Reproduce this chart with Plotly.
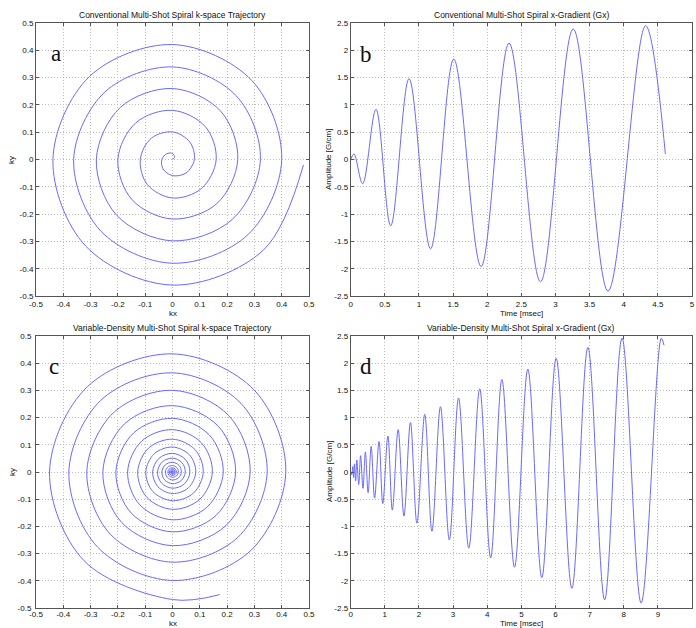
import plotly.graph_objects as go

W, H = 696, 628

# ---------------- data ----------------
# Panel a: conventional spiral, radius every 45 degrees starting at the centre (counter-clockwise)
a_r = [0.000, 0.011, 0.022, 0.030, 0.039, 0.049, 0.059, 0.070,
       0.080, 0.090, 0.101, 0.110, 0.118, 0.130, 0.141, 0.150,
       0.160, 0.170, 0.180, 0.190, 0.200, 0.209, 0.218, 0.229,
       0.239, 0.250, 0.260, 0.270, 0.279, 0.289, 0.298, 0.310,
       0.322, 0.330, 0.339, 0.350, 0.362, 0.371, 0.380, 0.390,
       0.400, 0.410, 0.421, 0.430, 0.438, 0.449, 0.460, 0.470]
a_end_theta = 2157.6
a_end_r = 0.480

# Panel b: conventional Gx, extrema (time msec, amplitude G/cm)
b_t = [0.0, 0.048, 0.175, 0.37, 0.586, 0.855, 1.17, 1.51, 1.91, 2.32, 2.78, 3.26, 3.77, 4.32, 4.61]
b_g = [0.0, 0.104, -0.445, 0.92, -1.214, 1.48, -1.636, 1.84, -1.96, 2.13, -2.24, 2.39, -2.41, 2.45, 0.10]

# Panel c: variable-density spiral, radius every 45 degrees starting at the centre
c_r = [0.0000, 0.0003, 0.0005, 0.0008, 0.0010,
       0.0012, 0.0014, 0.0016, 0.0018, 0.0019, 0.0021, 0.0023, 0.0025,
       0.0028, 0.0030, 0.0033, 0.0035, 0.0038, 0.0040, 0.0043, 0.0045,
       0.0049, 0.0053, 0.0056, 0.0060, 0.0064, 0.0068, 0.0071, 0.0075,
       0.0080, 0.0085, 0.0090, 0.0095, 0.0100, 0.0105, 0.0110, 0.0115,
       0.0122, 0.0129, 0.0136, 0.0143, 0.0149, 0.0156, 0.0163, 0.0170,
       0.0181, 0.0193, 0.0204, 0.0215, 0.0226, 0.0238, 0.0249, 0.0260,
       0.0276, 0.0293, 0.0309, 0.0325, 0.0341, 0.0358, 0.0374, 0.0390,
       0.0410, 0.0430, 0.0450, 0.0470, 0.0490, 0.0510, 0.0530, 0.0550,
       0.0573, 0.0595, 0.0618, 0.0640, 0.0663, 0.0685, 0.0708, 0.0730,
       0.0761, 0.0793, 0.0824, 0.0855, 0.0886, 0.0918, 0.0949, 0.0980,
       0.1018, 0.1055, 0.1093, 0.1130, 0.1168, 0.1205, 0.1243, 0.1280,
       0.1326, 0.1373, 0.1419, 0.1465, 0.1511, 0.1558, 0.1604, 0.1650,
       0.1704, 0.1758, 0.1811, 0.1865, 0.1919, 0.1973, 0.2026, 0.2080,
       0.2140, 0.2200, 0.2260, 0.2320, 0.2380, 0.2440, 0.2500, 0.2560,
       0.2634, 0.2708, 0.2781, 0.2855, 0.2929, 0.3003, 0.3076, 0.3150,
       0.3233, 0.3315, 0.3398, 0.3480, 0.3563, 0.3645, 0.3728, 0.3810,
       0.3899, 0.3988, 0.4076, 0.4165, 0.4254, 0.4343, 0.4431, 0.4520,
       0.4605, 0.4690]
c_end_theta = 6411.0
c_end_r = 0.483

# Panel d: variable-density Gx, extrema (time msec, amplitude G/cm)
d_t = [0.0, 0.03, 0.06, 0.085, 0.11, 0.145, 0.18, 0.235, 0.29, 0.36, 0.43, 0.51, 0.60, 0.70,
       0.83, 0.94, 1.09, 1.22, 1.39, 1.56, 1.75, 1.94, 2.17, 2.38, 2.63, 2.89, 3.16, 3.46,
       3.78, 4.10, 4.43, 4.80, 5.19, 5.60, 6.02, 6.48, 6.95, 7.44, 7.95, 8.51, 9.10, 9.18]
d_g = [0.0, -0.05, 0.10, -0.10, 0.15, -0.16, 0.22, -0.23, 0.30, -0.30, 0.37, -0.38, 0.47, -0.48,
       0.56, -0.58, 0.66, -0.70, 0.78, -0.81, 0.91, -0.94, 1.06, -1.09, 1.20, -1.25, 1.36, -1.40,
       1.53, -1.58, 1.70, -1.75, 1.89, -1.94, 2.09, -2.14, 2.29, -2.35, 2.46, -2.41, 2.46, 2.33]

# tick values / labels
k_ticks = [-0.5, -0.4, -0.3, -0.2, -0.1, 0, 0.1, 0.2, 0.3, 0.4, 0.5]
k_labels = ["-0.5", "-0.4", "-0.3", "-0.2", "-0.1", "0", "0.1", "0.2", "0.3", "0.4", "0.5"]
g_ticks = [-2.5, -2, -1.5, -1, -0.5, 0, 0.5, 1, 1.5, 2, 2.5]
g_labels = ["-2.5", "-2", "-1.5", "-1", "-0.5", "0", "0.5", "1", "1.5", "2", "2.5"]
tb_ticks = [0, 0.5, 1, 1.5, 2, 2.5, 3, 3.5, 4, 4.5, 5]
tb_labels = ["0", "0.5", "1", "1.5", "2", "2.5", "3", "3.5", "4", "4.5", "5"]
td_ticks = [0, 1, 2, 3, 4, 5, 6, 7, 8, 9, 10]
td_labels = ["0", "1", "2", "3", "4", "5", "6", "7", "8", "9", "10"]

titles = ["Conventional Multi-Shot Spiral k-space Trajectory",
          "Conventional Multi-Shot Spiral x-Gradient (Gx)",
          "Variable-Density Multi-Shot Spiral k-space Trajectory",
          "Variable-Density Multi-Shot Spiral x-Gradient (Gx)"]
letters = ["a", "b", "c", "d"]

STEP = 45
a_theta = [STEP * i for i in range(len(a_r))] + [a_end_theta]
a_rr = a_r + [a_end_r]
c_theta = [STEP * i for i in range(len(c_r))] + [c_end_theta]
c_rr = c_r + [c_end_r]

# ---------------- geometry (pixels) ----------------
XL = (36, 309)      # left column plot area
XR = (350.7, 692)   # right column plot area
YT = (23, 296)      # top row
YB = (336, 608)     # bottom row


def dx(p):
    return (p[0] / W, p[1] / W)


def dy(p):
    return (1 - p[1] / H, 1 - p[0] / H)


LINE = dict(color="rgb(105,105,255)", width=1, shape="spline", smoothing=1)
FONT = "Liberation Sans, Arial, sans-serif"

fig = go.Figure()
fig.add_trace(go.Scatter(x=[], y=[], xaxis="x", yaxis="y", showlegend=False))
fig.add_trace(go.Scatter(x=b_t, y=b_g, mode="lines", line=LINE, xaxis="x2", yaxis="y2", showlegend=False))
fig.add_trace(go.Scatter(x=[], y=[], xaxis="x3", yaxis="y3", showlegend=False))
fig.add_trace(go.Scatter(x=d_t, y=d_g, mode="lines", line=LINE, xaxis="x4", yaxis="y4", showlegend=False))
fig.add_trace(go.Scatterpolar(r=a_rr, theta=a_theta, mode="lines", line=LINE, subplot="polar", showlegend=False))
fig.add_trace(go.Scatterpolar(r=c_rr, theta=c_theta, mode="lines", line=LINE, subplot="polar2", showlegend=False))

ax = dict(showline=True, linecolor="#555", linewidth=1, mirror="ticks", ticks="inside", ticklen=3,
          tickcolor="#555", showgrid=True, gridcolor="#bdbdbd", griddash="1px,2px", gridwidth=1,
          zeroline=False, tickfont=dict(family=FONT, size=8, color="#111"), fixedrange=True,
          automargin=False)

fig.update_layout(
    width=W, height=H, margin=dict(l=0, r=0, t=0, b=0, pad=0, autoexpand=False),
    autosize=False,
    paper_bgcolor="white", plot_bgcolor="white", showlegend=False,
    xaxis=dict(ax, domain=dx(XL), range=[-0.5, 0.5], tickvals=k_ticks, ticktext=k_labels, anchor="y"),
    yaxis=dict(ax, domain=dy(YT), range=[-0.5, 0.5], tickvals=k_ticks, ticktext=k_labels, anchor="x"),
    xaxis2=dict(ax, domain=dx(XR), range=[0, 5], tickvals=tb_ticks, ticktext=tb_labels, anchor="y2"),
    yaxis2=dict(ax, domain=dy(YT), range=[-2.5, 2.5], tickvals=g_ticks, ticktext=g_labels, anchor="x2"),
    xaxis3=dict(ax, domain=dx(XL), range=[-0.5, 0.5], tickvals=k_ticks, ticktext=k_labels, anchor="y3",
                ticklabelstandoff=-2),
    yaxis3=dict(ax, domain=dy(YB), range=[-0.5, 0.5], tickvals=k_ticks, ticktext=k_labels, anchor="x3",
                ticklabelstandoff=2),
    xaxis4=dict(ax, domain=dx(XR), range=[0, 10], tickvals=td_ticks, ticktext=td_labels, anchor="y4",
                ticklabelstandoff=-2),
    yaxis4=dict(ax, domain=dy(YB), range=[-2.5, 2.5], tickvals=g_ticks, ticktext=g_labels, anchor="x4"),
    polar=dict(domain=dict(x=dx(XL), y=dy(YT)), bgcolor="rgba(0,0,0,0)",
               radialaxis=dict(range=[0, 0.5], visible=False),
               angularaxis=dict(visible=False, rotation=0, direction="counterclockwise")),
    polar2=dict(domain=dict(x=dx(XL), y=dy(YB)), bgcolor="rgba(0,0,0,0)",
                radialaxis=dict(range=[0, 0.5], visible=False),
                angularaxis=dict(visible=False, rotation=0, direction="counterclockwise")),
)

ann = []


def txt(x, y, s, size=8.5, angle=0, family=FONT):
    ann.append(dict(x=x / W, y=1 - y / H, xref="paper", yref="paper", text=s, showarrow=False,
                    xanchor="center", yanchor="middle", textangle=angle,
                    font=dict(family=family, size=size, color="#111")))


cx = [(XL[0] + XL[1]) / 2, (XR[0] + XR[1]) / 2]
txt(cx[0], 15.5, titles[0])
txt(cx[1], 15.5, titles[1])
txt(cx[0], 327.5, titles[2])
txt(cx[1], 327.5, titles[3])
txt(cx[0], 313.5, "kx", size=8)
txt(cx[0], 623.5, "kx", size=8)
txt(cx[1], 313.5, "Time [msec]", size=8)
txt(cx[1], 623.5, "Time [msec]", size=8)
txt(12, 160, "ky", size=8, angle=-90)
txt(12, 472, "ky", size=8, angle=-90)
txt(329, 160, "Amplitude [G/cm]", size=8, angle=-90)
txt(329, 472, "Amplitude [G/cm]", size=8, angle=-90)
SERIF = "Liberation Serif, Times New Roman, serif"
txt(56, 53, letters[0], size=23, family=SERIF)
txt(366, 54.5, letters[1], size=23, family=SERIF)
txt(54, 366, letters[2], size=23, family=SERIF)
txt(366, 366, letters[3], size=23, family=SERIF)
fig.update_layout(annotations=ann)

fig.write_html("out.html", config={"displayModeBar": False, "staticPlot": True},
               post_script="document.body.style.margin='0';document.body.style.overflow='hidden';")
